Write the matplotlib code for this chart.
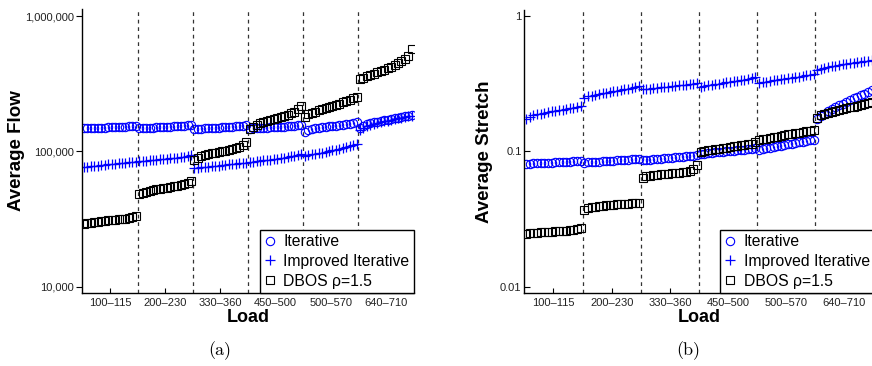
#!/usr/bin/env python3
"""
Average flow / average stretch per load range
Iterative vs Improved Iterative vs DBOS (rho=1.5)
"""

import matplotlib
matplotlib.use('Agg')
import matplotlib.pyplot as plt
import numpy as np
from matplotlib.ticker import NullLocator

plt.rcParams['font.family'] = ['Liberation Sans', 'DejaVu Sans']

# Load ranges (x groups)
LOADS = ['100–115', '200–230', '330–360', '450–500', '500–570', '640–710']

# ---- (a) Average Flow, one list of 16 runs per load range ----
flow_iterative = [
    [148e3, 148.5e3, 149e3, 149e3, 149.5e3, 150e3, 150e3, 150.5e3, 151e3, 151e3, 151.5e3, 152e3, 152.5e3, 153e3, 153.5e3, 154e3],
    [148.5e3, 149e3, 149.5e3, 150e3, 150e3, 150.5e3, 151e3, 151.5e3, 152e3, 152.5e3, 153e3, 153.5e3, 154e3, 155e3, 155.5e3, 156e3],
    [146e3, 147e3, 147.5e3, 148e3, 148.5e3, 149e3, 149.5e3, 150e3, 150.5e3, 151e3, 151.5e3, 152e3, 153e3, 154e3, 155e3, 157e3],
    [147e3, 148e3, 148.5e3, 149e3, 149.5e3, 150e3, 150.5e3, 151e3, 151.5e3, 152e3, 152.5e3, 153e3, 154e3, 155e3, 156e3, 157e3],
    [140e3, 145e3, 147e3, 148.5e3, 150e3, 151e3, 152e3, 153e3, 154e3, 155e3, 156e3, 157.5e3, 159e3, 160.5e3, 162e3, 164e3],
    [150e3, 155e3, 159e3, 162e3, 164e3, 166e3, 168e3, 170e3, 171.5e3, 173e3, 175e3, 177e3, 179e3, 181e3, 183e3, 185e3],
]
flow_improved = [
    [76.5e3, 77e3, 77.5e3, 78e3, 78.5e3, 79e3, 79.5e3, 80e3, 80.5e3, 81e3, 81.5e3, 82e3, 82.5e3, 83e3, 83.5e3, 84e3],
    [84.5e3, 85e3, 85.5e3, 86e3, 86.5e3, 87e3, 87.5e3, 88e3, 88.5e3, 89e3, 89.5e3, 90e3, 90.5e3, 91e3, 92e3, 93.5e3],
    [75e3, 75.5e3, 76e3, 76.5e3, 77e3, 77.5e3, 78e3, 78.5e3, 79e3, 79.5e3, 80e3, 80.5e3, 81e3, 81.5e3, 82e3, 82.5e3],
    [83e3, 84e3, 84.5e3, 85e3, 86e3, 86.5e3, 87e3, 88e3, 88.5e3, 89e3, 90e3, 91e3, 92e3, 93e3, 94e3, 96e3],
    [92e3, 94e3, 95e3, 96e3, 97e3, 98e3, 99e3, 100.5e3, 102e3, 103e3, 104.5e3, 106e3, 108e3, 110e3, 112e3, 114e3],
    [143e3, 148e3, 153e3, 157e3, 160e3, 163e3, 165e3, 167e3, 169e3, 171e3, 173e3, 175e3, 177e3, 179e3, 181e3, 183e3],
]
flow_dbos = [
    [29.3e3, 29.5e3, 29.8e3, 30e3, 30.2e3, 30.5e3, 30.7e3, 30.9e3, 31e3, 31.2e3, 31.4e3, 31.6e3, 31.8e3, 32e3, 32.5e3, 33.3e3],
    [48e3, 49e3, 50e3, 51e3, 52e3, 52.5e3, 53e3, 53.5e3, 54e3, 54.5e3, 55e3, 55.5e3, 56.5e3, 57.5e3, 58.5e3, 60e3],
    [87e3, 90e3, 93e3, 94.5e3, 96e3, 97e3, 98e3, 99e3, 100e3, 101e3, 102e3, 103.5e3, 105e3, 108e3, 112e3, 118e3],
    [147e3, 152e3, 157e3, 161e3, 164e3, 167e3, 170e3, 173e3, 176e3, 179e3, 183e3, 187e3, 192e3, 197e3, 205e3, 215e3],
    [178e3, 188e3, 193e3, 197e3, 201e3, 205e3, 209e3, 213e3, 217e3, 221e3, 225e3, 230e3, 235e3, 240e3, 246e3, 253e3],
    [340e3, 350e3, 358e3, 366e3, 375e3, 384e3, 393e3, 402e3, 412e3, 423e3, 435e3, 448e3, 463e3, 480e3, 510e3, 570e3],
]

# ---- (b) Average Stretch ----
stretch_iterative = [
    [.0808, .0811, .0813, .0815, .0818, .082, .0822, .0825, .0827, .083, .0832, .0835, .0838, .0841, .0845, .0850],
    [.0826, .0829, .0832, .0835, .0839, .0842, .0846, .0849, .0853, .0856, .086, .0864, .0868, .0872, .0877, .0883],
    [.0855, .086, .0865, .087, .0875, .088, .0885, .089, .0895, .09, .0905, .091, .0916, .0922, .093, .0942],
    [.0955, .0962, .0968, .0974, .098, .0986, .0992, .0998, .1004, .101, .1016, .1022, .1028, .1035, .1042, .105],
    [.102, .1035, .105, .1062, .1075, .1088, .11, .1112, .1125, .1138, .115, .1163, .1176, .119, .1205, .122],
    [.172, .182, .19, .197, .204, .211, .218, .225, .232, .239, .246, .253, .26, .267, .274, .283],
]
stretch_improved = [
    [.174, .18, .184, .187, .19, .193, .195, .197, .199, .201, .203, .205, .207, .209, .212, .216],
    [.249, .254, .258, .262, .265, .268, .271, .274, .277, .28, .283, .286, .289, .293, .297, .302],
    [.286, .288, .29, .292, .294, .296, .298, .3, .302, .304, .306, .308, .31, .312, .314, .317],
    [.298, .302, .306, .31, .313, .316, .319, .322, .325, .328, .331, .334, .338, .342, .346, .351],
    [.318, .323, .327, .331, .334, .337, .34, .343, .346, .349, .352, .355, .359, .363, .367, .371],
    [.4, .408, .414, .419, .424, .429, .434, .439, .443, .447, .451, .455, .459, .463, .467, .472],
]
stretch_dbos = [
    [.0247, .0249, .025, .0251, .0252, .0253, .0254, .0255, .0256, .0257, .0258, .0259, .026, .0262, .0266, .0272],
    [.0368, .038, .0386, .039, .0393, .0396, .0399, .0401, .0403, .0405, .0407, .0409, .0411, .0413, .0415, .0418],
    [.0638, .0655, .066, .0665, .067, .0674, .0678, .0682, .0686, .069, .0695, .07, .0706, .0715, .0735, .079],
    [.0985, .1005, .1015, .1025, .1035, .1045, .1055, .1065, .1075, .1085, .1095, .1105, .1115, .1128, .114, .117],
    [.121, .1225, .124, .1255, .127, .1285, .13, .1315, .133, .1345, .136, .1375, .139, .1405, .142, .144],
    [.176, .184, .189, .193, .196, .199, .202, .205, .208, .211, .214, .217, .220, .223, .226, .230],
]

BLUE = '#0000ff'


def group_x(groups):
    """x position of each run: spread evenly inside its load-range slot"""
    xs = []
    for g, vals in enumerate(groups):
        n = len(vals)
        xs.extend(g + (np.arange(n) + 0.5) / n)
    return np.array(xs)


def draw_panel(ax, it, imp, dbos, ylim, yticks, yticklabels, ylabel,
               ylabel_x, tick_dir):
    x = group_x(it)
    ax.plot(x, np.concatenate(it), 'o', ls='none', ms=6, mfc='none',
            mec=BLUE, mew=0.8, label='Iterative')
    ax.plot(x, np.concatenate(imp), '+', ls='none', ms=7.5,
            mec=BLUE, mew=0.9, label='Improved Iterative')
    ax.plot(x, np.concatenate(dbos), 's', ls='none', ms=5.5, mfc='none',
            mec='black', mew=0.8, label='DBOS ρ=1.5')

    for b in range(1, len(LOADS)):
        ax.axvline(b, color='#333333', lw=0.9, ls=(0, (3, 3)), zorder=0)

    ax.set_yscale('log')
    ax.set_ylim(*ylim)
    ax.set_xlim(0, len(LOADS))
    ax.set_yticks(yticks)
    ax.set_yticklabels(yticklabels)
    ax.yaxis.set_minor_locator(NullLocator())
    ax.set_xticks(np.arange(len(LOADS)) + 0.5)
    ax.set_xticklabels(LOADS)

    for s in ('top', 'right'):
        ax.spines[s].set_visible(False)
    for s in ('left', 'bottom'):
        ax.spines[s].set_linewidth(1.0)

    ax.tick_params(axis='x', direction='in', length=3.5, labelsize=8,
                   labelcolor='#222222', pad=4)
    ax.tick_params(axis='y', direction=tick_dir, length=4, labelsize=8,
                   labelcolor='#222222', pad=2)

    ax.set_xlabel('Load', fontsize=13, fontweight='bold')
    ax.xaxis.set_label_coords(0.5, -0.058)
    ax.set_ylabel(ylabel, fontsize=13.5, fontweight='bold')
    ax.yaxis.set_label_coords(ylabel_x, 0.5)

    leg = ax.legend(loc='lower right', fontsize=11.3, borderaxespad=0,
                    borderpad=0.25, labelspacing=0.31, handlelength=0.8,
                    handletextpad=0.45, fancybox=False, framealpha=1)
    leg.get_frame().set_edgecolor('black')
    leg.get_frame().set_linewidth(1.0)


fig = plt.figure(figsize=(8.72, 3.66), dpi=100)
ax1 = fig.add_axes([0.0944, 0.2003, 0.3798, 0.775])
ax2 = fig.add_axes([0.6013, 0.2003, 0.4005, 0.772])

draw_panel(ax1, flow_iterative, flow_improved, flow_dbos,
           (9030, 1.126e6), [1e4, 1e5, 1e6],
           ['10,000', '100,000', '1,000,000'], 'Average Flow', -0.174,
           'out')
draw_panel(ax2, stretch_iterative, stretch_improved, stretch_dbos,
           (0.00903, 1.102), [0.01, 0.1, 1],
           ['0.01', '0.1', '1'], 'Average Stretch', -0.089,
           'in')

# sub-figure captions
fig.text(220 / 872, 1 - 351 / 366, '(a)', ha='center', va='center',
         fontsize=13, family='cmr10')
fig.text(688 / 872, 1 - 351 / 366, '(b)', ha='center', va='center',
         fontsize=13, family='cmr10')

fig.savefig('out.png', dpi=100)
plt.close(fig)
